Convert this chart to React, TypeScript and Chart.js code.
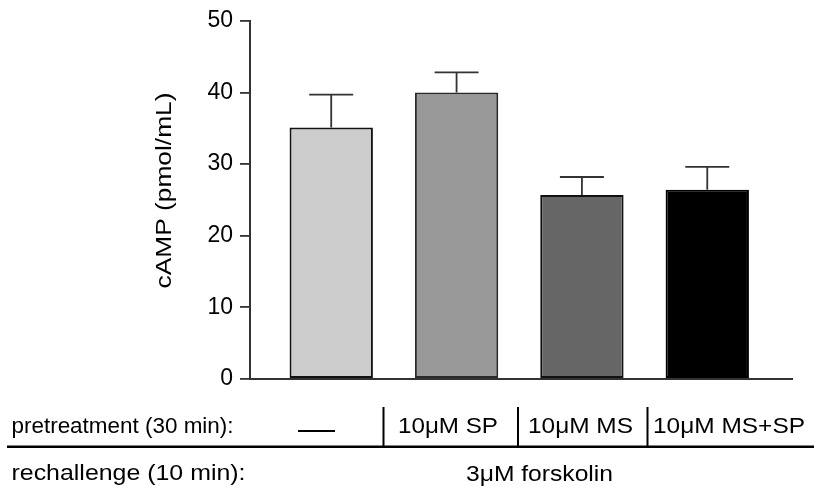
import React, { useEffect, useRef } from "react";
import { Chart, registerables } from "chart.js";

Chart.register(...registerables);

const categories = ["—", "10μM SP", "10μM MS", "10μM MS+SP"];
const means = [35.1, 40.0, 25.7, 26.4];
const sems = [4.6, 2.8, 2.5, 3.2];
const yTicks = [0, 10, 20, 30, 40, 50];
const fillColors = ["#cccccc", "#999999", "#666666", "#000000"];
const edgeColors = ["#111111", "#2a2a2a", "#111111", "#000000"];
const yTitle = "cAMP (pmol/mL)";
const rowLabels = ["pretreatment (30 min):", "rechallenge (10 min):"];
const rechallengeText = "3μM forskolin";

const FONT = "'Liberation Sans', Arial, Helvetica, sans-serif";

function stretchText(ctx: CanvasRenderingContext2D, text: string, x: number, y: number, targetW: number) {
  const w = ctx.measureText(text).width;
  const sx = targetW / w;
  ctx.save();
  ctx.translate(x, y);
  ctx.scale(sx, 1);
  ctx.fillText(text, 0, 0);
  ctx.restore();
}

const errorBarPlugin = {
  id: "errorBars",
  afterDatasetsDraw(chart: any) {
    const ctx = chart.ctx as CanvasRenderingContext2D;
    const meta = chart.getDatasetMeta(0);
    const yScale = chart.scales.y;
    ctx.save();
    ctx.strokeStyle = "#333333";
    ctx.lineWidth = 1.8;
    meta.data.forEach((el: any, i: number) => {
      const top = yScale.getPixelForValue(means[i] + sems[i]);
      const base = yScale.getPixelForValue(means[i]);
      ctx.beginPath();
      ctx.moveTo(el.x, base);
      ctx.lineTo(el.x, top);
      ctx.moveTo(el.x - 22, top);
      ctx.lineTo(el.x + 22, top);
      ctx.stroke();
    });
    ctx.restore();
  },
};

const annotationPlugin = {
  id: "tableAnnotations",
  afterDraw(chart: any) {
    const ctx = chart.ctx as CanvasRenderingContext2D;
    ctx.save();
    ctx.fillStyle = "#000";
    ctx.font = `22px ${FONT}`;
    ctx.textBaseline = "alphabetic";
    ctx.textAlign = "left";

    // y-axis title
    ctx.save();
    ctx.translate(171, 190.5);
    ctx.rotate(-Math.PI / 2);
    const tw = ctx.measureText(yTitle).width;
    const sx = 196 / tw;
    ctx.scale(sx, 1);
    ctx.textAlign = "center";
    ctx.fillText(yTitle, 0, 0);
    ctx.restore();

    // row labels
    stretchText(ctx, rowLabels[0], 11.5, 433, 222);
    stretchText(ctx, rowLabels[1], 11.5, 480, 234);

    // pretreatment cells
    const cellX = [0, 398, 528, 653];
    const cellW = [0, 100, 105, 152];
    for (let i = 1; i < categories.length; i++) {
      stretchText(ctx, categories[i], cellX[i], 433, cellW[i]);
    }
    // dash for "none"
    ctx.strokeStyle = "#000";
    ctx.lineWidth = 2;
    ctx.beginPath();
    ctx.moveTo(298, 431);
    ctx.lineTo(335, 431);
    ctx.stroke();

    // separators
    ctx.lineWidth = 2;
    ctx.beginPath();
    [383.5, 518, 647.5].forEach((x) => {
      ctx.moveTo(x, 407);
      ctx.lineTo(x, 446);
    });
    ctx.stroke();

    // horizontal rule
    ctx.lineWidth = 2.6;
    ctx.beginPath();
    ctx.moveTo(7, 446.8);
    ctx.lineTo(814, 446.8);
    ctx.stroke();

    // rechallenge
    stretchText(ctx, rechallengeText, 466, 481, 147);
    ctx.restore();
  },
};

export default function App() {
  const ref = useRef<HTMLCanvasElement>(null);
  useEffect(() => {
    if (!ref.current) return;
    const chart = new Chart(ref.current, {
      type: "bar",
      data: {
        datasets: [
          {
            label: "cAMP",
            data: means.map((v, i) => ({ x: i, y: v })),
            backgroundColor: fillColors,
            borderColor: edgeColors,
            borderWidth: 2,
            borderSkipped: false,
            barPercentage: 0.665,
            categoryPercentage: 1,
          },
        ],
      },
      options: {
        responsive: false,
        animation: false,
        layout: { padding: { left: 0, top: 18.5, right: 28, bottom: 112 } },
        plugins: { legend: { display: false }, tooltip: { enabled: false } },
        scales: {
          x: {
            type: "linear",
            offset: false,
            min: -0.648,
            max: 3.676,
            afterBuildTicks: (s: any) => {
              s.ticks = categories.map((_, i) => ({ value: i }));
            },
            ticks: { display: false },
            grid: { display: false, drawTicks: false },
            border: { display: true, color: "#333333", width: 2 },
            afterFit: (s: any) => {
              s.height = 0;
            },
          },
          y: {
            min: 0,
            max: 50,
            afterBuildTicks: (s: any) => {
              s.ticks = yTicks.map((v) => ({ value: v }));
            },
            ticks: {
              font: { family: FONT, size: 23 },
              color: "#000",
              padding: 7,
            },
            grid: {
              display: true,
              drawOnChartArea: false,
              drawTicks: true,
              tickLength: 10,
              color: "#333333",
              lineWidth: 1.8,
            },
            border: { display: true, color: "#333333", width: 2 },
            afterFit: (s: any) => {
              s.width = 250;
            },
          },
        },
      },
      plugins: [errorBarPlugin, annotationPlugin],
    });
    return () => chart.destroy();
  }, []);
  return (
    <div style={{ position: "absolute", left: 0, top: 0, width: 820, height: 491, background: "#fff" }}>
      <canvas ref={ref} width={820} height={491} />
    </div>
  );
}
